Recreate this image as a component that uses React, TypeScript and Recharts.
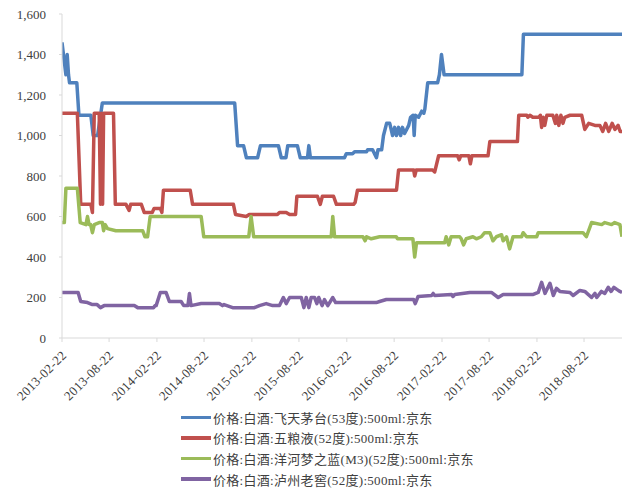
import { LineChart, Line, XAxis, YAxis, Legend } from 'recharts';

// tick labels on the date axis
const tickDates = [
    '2013-02-22', '2013-08-22', '2014-02-22', '2014-08-22', '2015-02-22', '2015-08-22',
    '2016-02-22', '2016-08-22', '2017-02-22', '2017-08-22', '2018-02-22', '2018-08-22',
];
const yTicks = [0, 200, 400, 600, 800, 1000, 1200, 1400, 1600];
const startDate = '2013-02-22';
const endDate = '2019-01-15';

const seriesNames = [
    '价格:白酒:飞天茅台(53度):500ml:京东',
    '价格:白酒:五粮液(52度):500ml:京东',
    '价格:白酒:洋河梦之蓝(M3)(52度):500ml:京东',
    '价格:白酒:泸州老窖(52度):500ml:京东',
];
const seriesColors = ['#4F81BD', '#C0504D', '#9BBB59', '#8064A2'];

// [date, price]
const maotai: [string, number][] = [
    ['2013-02-22', 1460], ['2013-03-09', 1300], ['2013-03-14', 1400], ['2013-03-19', 1300],
    ['2013-03-23', 1260], ['2013-04-20', 1260], ['2013-04-28', 1100], ['2013-06-13', 1100],
    ['2013-06-22', 1000], ['2013-07-09', 1000], ['2013-07-27', 1160], ['2014-12-18', 1160],
    ['2014-12-29', 950], ['2015-01-21', 950], ['2015-02-01', 890], ['2015-03-16', 890],
    ['2015-03-27', 950], ['2015-06-04', 950], ['2015-06-15', 890], ['2015-07-03', 890],
    ['2015-07-10', 950], ['2015-08-16', 950], ['2015-08-27', 890], ['2015-09-24', 890],
    ['2015-09-29', 950], ['2015-10-05', 890], ['2016-02-13', 890], ['2016-02-20', 910],
    ['2016-03-15', 910], ['2016-03-23', 920], ['2016-05-08', 920], ['2016-05-12', 930],
    ['2016-05-31', 930], ['2016-06-15', 890], ['2016-06-21', 930], ['2016-07-05', 930],
    ['2016-07-12', 1000], ['2016-07-24', 1060], ['2016-08-05', 1060], ['2016-08-16', 1000],
    ['2016-08-24', 1040], ['2016-08-31', 1000], ['2016-09-08', 1040], ['2016-09-16', 1000],
    ['2016-09-23', 1040], ['2016-10-01', 1010], ['2016-10-09', 1030], ['2016-10-17', 1050],
    ['2016-10-24', 1090], ['2016-11-03', 1100], ['2016-11-07', 1000], ['2016-11-11', 1100],
    ['2016-11-24', 1090], ['2016-12-06', 1120], ['2016-12-14', 1110], ['2016-12-18', 1130],
    ['2016-12-29', 1260], ['2017-02-05', 1260], ['2017-02-12', 1300], ['2017-02-20', 1400],
    ['2017-03-02', 1300], ['2017-12-26', 1300], ['2018-01-01', 1500], ['2019-01-15', 1500],
];

const wuliangye: [string, number][] = [
    ['2013-02-22', 1110], ['2013-04-22', 1110], ['2013-05-05', 660], ['2013-06-13', 660],
    ['2013-06-19', 620], ['2013-06-26', 1110], ['2013-07-15', 1110], ['2013-07-20', 660],
    ['2013-07-24', 1110], ['2013-07-28', 660], ['2013-08-01', 1110], ['2013-09-08', 1110],
    ['2013-09-15', 660], ['2013-10-26', 660], ['2013-11-07', 630], ['2013-11-13', 660],
    ['2013-12-24', 660], ['2014-01-04', 620], ['2014-02-04', 620], ['2014-02-11', 640],
    ['2014-03-07', 640], ['2014-03-13', 620], ['2014-03-19', 730], ['2014-06-30', 730],
    ['2014-07-09', 660], ['2014-12-13', 660], ['2014-12-21', 610], ['2015-01-31', 600],
    ['2015-02-12', 610], ['2015-05-31', 610], ['2015-06-08', 620], ['2015-07-04', 620],
    ['2015-07-17', 610], ['2015-08-09', 610], ['2015-08-14', 700], ['2015-11-01', 700],
    ['2015-11-12', 660], ['2015-11-20', 700], ['2016-01-02', 700], ['2016-01-13', 660],
    ['2016-03-19', 660], ['2016-03-25', 670], ['2016-04-03', 730], ['2016-08-31', 730],
    ['2016-09-08', 830], ['2016-11-05', 830], ['2016-11-09', 800], ['2016-11-15', 830],
    ['2017-01-17', 830], ['2017-01-25', 820], ['2017-02-09', 900], ['2017-04-23', 900],
    ['2017-04-29', 880], ['2017-05-05', 900], ['2017-06-05', 900], ['2017-06-11', 860],
    ['2017-06-17', 900], ['2017-08-18', 900], ['2017-08-25', 970], ['2017-12-09', 970],
    ['2017-12-14', 1100], ['2018-01-14', 1100], ['2018-01-18', 1090], ['2018-01-26', 1100],
    ['2018-02-06', 1090], ['2018-03-01', 1090], ['2018-03-07', 1100], ['2018-03-12', 1040],
    ['2018-03-18', 1090], ['2018-03-24', 1050], ['2018-04-01', 1100], ['2018-04-24', 1100],
    ['2018-05-04', 1060], ['2018-05-09', 1100], ['2018-05-17', 1050], ['2018-05-25', 1100],
    ['2018-06-02', 1060], ['2018-06-09', 1090], ['2018-06-29', 1100], ['2018-08-13', 1100],
    ['2018-08-25', 1030], ['2018-09-09', 1060], ['2018-10-03', 1050], ['2018-10-22', 1050],
    ['2018-11-02', 1020], ['2018-11-13', 1060], ['2018-11-25', 1020], ['2018-12-08', 1060],
    ['2018-12-19', 1030], ['2018-12-31', 1050], ['2019-01-08', 1020], ['2019-01-15', 1020],
];

const yanghe: [string, number][] = [
    ['2013-02-22', 570], ['2013-03-03', 570], ['2013-03-09', 740], ['2013-04-22', 740],
    ['2013-05-03', 570], ['2013-05-25', 560], ['2013-05-31', 600], ['2013-06-06', 560],
    ['2013-06-12', 560], ['2013-06-19', 520], ['2013-06-26', 560], ['2013-07-15', 570],
    ['2013-07-27', 570], ['2013-08-01', 530], ['2013-08-07', 560], ['2013-08-16', 540],
    ['2013-09-17', 530], ['2013-12-29', 530], ['2014-01-07', 500], ['2014-01-17', 500],
    ['2014-01-27', 600], ['2014-08-11', 600], ['2014-08-21', 500], ['2015-02-10', 500],
    ['2015-02-19', 600], ['2015-03-01', 500], ['2015-12-24', 500], ['2015-12-30', 600],
    ['2016-01-06', 500], ['2016-04-24', 500], ['2016-05-02', 480], ['2016-05-08', 500],
    ['2016-05-26', 490], ['2016-06-27', 500], ['2016-08-30', 500], ['2016-09-04', 490],
    ['2016-11-02', 490], ['2016-11-09', 400], ['2016-11-16', 470], ['2016-12-05', 470],
    ['2017-03-04', 470], ['2017-03-10', 500], ['2017-03-20', 460], ['2017-03-29', 500],
    ['2017-05-01', 500], ['2017-05-07', 490], ['2017-05-16', 460], ['2017-05-26', 490],
    ['2017-06-21', 500], ['2017-07-04', 490], ['2017-07-23', 500], ['2017-08-05', 520],
    ['2017-08-25', 520], ['2017-09-06', 480], ['2017-09-19', 500], ['2017-10-09', 510],
    ['2017-10-15', 480], ['2017-10-28', 500], ['2017-11-09', 440], ['2017-11-22', 500],
    ['2017-12-25', 500], ['2017-12-31', 520], ['2018-01-13', 500], ['2018-02-21', 500],
    ['2018-02-27', 520], ['2018-08-18', 520], ['2018-08-31', 500], ['2018-09-20', 570],
    ['2018-10-29', 560], ['2018-11-10', 570], ['2018-12-06', 560], ['2018-12-18', 570],
    ['2019-01-07', 560], ['2019-01-15', 500],
];

const luzhou: [string, number][] = [
    ['2013-02-22', 225], ['2013-04-25', 225], ['2013-05-05', 180], ['2013-05-31', 175],
    ['2013-06-19', 165], ['2013-07-07', 165], ['2013-07-20', 150], ['2013-08-03', 160],
    ['2013-11-27', 160], ['2013-12-10', 150], ['2014-02-09', 150], ['2014-02-15', 160],
    ['2014-02-19', 160], ['2014-03-07', 225], ['2014-03-29', 225], ['2014-04-11', 180],
    ['2014-05-26', 180], ['2014-06-05', 160], ['2014-06-21', 160], ['2014-06-27', 220],
    ['2014-07-03', 160], ['2014-08-11', 170], ['2014-10-20', 170], ['2014-11-01', 160],
    ['2014-11-07', 165], ['2014-12-10', 150], ['2015-03-04', 150], ['2015-03-23', 160],
    ['2015-04-18', 170], ['2015-05-13', 160], ['2015-06-08', 160], ['2015-06-23', 200],
    ['2015-07-04', 170], ['2015-07-17', 200], ['2015-08-31', 200], ['2015-09-10', 150],
    ['2015-09-19', 200], ['2015-09-29', 150], ['2015-10-08', 200], ['2015-10-21', 200],
    ['2015-10-30', 170], ['2015-11-06', 200], ['2015-11-19', 160], ['2015-11-28', 190],
    ['2015-12-11', 160], ['2015-12-30', 200], ['2016-01-10', 175], ['2016-06-14', 175],
    ['2016-06-27', 180], ['2016-07-23', 190], ['2016-11-05', 190], ['2016-11-11', 170],
    ['2016-11-22', 205], ['2017-01-13', 210], ['2017-01-19', 220], ['2017-01-25', 210],
    ['2017-03-31', 215], ['2017-04-05', 205], ['2017-04-12', 215], ['2017-06-09', 225],
    ['2017-08-31', 225], ['2017-09-26', 200], ['2017-10-15', 215], ['2018-02-08', 215],
    ['2018-02-27', 225], ['2018-03-12', 275], ['2018-03-25', 220], ['2018-04-13', 270],
    ['2018-04-26', 210], ['2018-05-08', 245], ['2018-05-21', 230], ['2018-06-29', 225],
    ['2018-07-11', 210], ['2018-08-06', 235], ['2018-08-25', 230], ['2018-09-20', 200],
    ['2018-10-03', 220], ['2018-10-10', 200], ['2018-10-28', 230], ['2018-11-10', 220],
    ['2018-11-23', 250], ['2018-12-04', 230], ['2018-12-15', 250], ['2018-12-26', 240],
    ['2019-01-07', 230], ['2019-01-15', 225],
];

const toTime = (d: string) => Date.parse(d);
const toPoints = (rows: [string, number][]) => rows.map(([d, v]) => ({ t: toTime(d), v }));
const allSeries = [maotai, wuliangye, yanghe, luzhou].map(toPoints);

const FONT = '"Liberation Serif", "Noto Sans CJK SC", serif';

const DateTick = ({ x, y, payload }: any) => {
    const label = new Date(payload.value).toISOString().slice(0, 10);
    const ax = x + 2;
    const ay = y + 9;
    return (
        <text x={ax} y={ay} dy="0.35em" textAnchor="end" fontSize={13} fontFamily={FONT}
            fill="#404040" letterSpacing={0.3} transform={`rotate(-45 ${ax} ${ay})`}>
            {label}
        </text>
    );
};

// legend keeps the series order of the original
const LegendRows = () => (
    <div style={{ fontFamily: FONT, fontSize: 13, color: '#404040' }}>
        {seriesNames.map((name, i) => (
            <div key={name} style={{ display: 'flex', alignItems: 'center', height: 20.6 }}>
                <span style={{ display: 'inline-block', width: 30, height: 3.5, background: seriesColors[i], marginRight: 2 }} />
                <span style={{ letterSpacing: 0.3 }}>{name}</span>
            </div>
        ))}
    </div>
);

export default function App() {
    return (
        <div style={{ position: 'absolute', left: 0, top: 0, width: 627, height: 491, background: '#fff' }}>
            <LineChart width={627} height={491} margin={{ top: 14, right: 5, left: 0, bottom: 83 }}>
                <XAxis
                    type="number"
                    dataKey="t"
                    domain={[toTime(startDate), toTime(endDate)]}
                    ticks={tickDates.map(toTime)}
                    tick={<DateTick />}
                    interval={0}
                    height={70}
                    stroke="#D9D9D9"
                    tickSize={4}
                    allowDataOverflow
                />
                <YAxis
                    domain={[0, 1600]}
                    ticks={yTicks}
                    width={62}
                    stroke="#D9D9D9"
                    tickSize={3}
                    tickMargin={13}
                    tick={{ fill: '#404040', fontSize: 13, fontFamily: FONT }}
                    tickFormatter={(v) => v.toLocaleString('en-US')}
                />
                <Legend
                    layout="vertical"
                    align="center"
                    verticalAlign="middle"
                    content={<LegendRows />}
                    wrapperStyle={{ top: 407, left: 181, width: 320 }}
                />
                {allSeries.map((pts, i) => (
                    <Line
                        key={seriesNames[i]}
                        data={pts}
                        dataKey="v"
                        name={seriesNames[i]}
                        type="linear"
                        stroke={seriesColors[i]}
                        strokeWidth={3.5}
                        strokeLinejoin="round"
                        dot={false}
                        isAnimationActive={false}
                    />
                ))}
            </LineChart>
        </div>
    );
}
